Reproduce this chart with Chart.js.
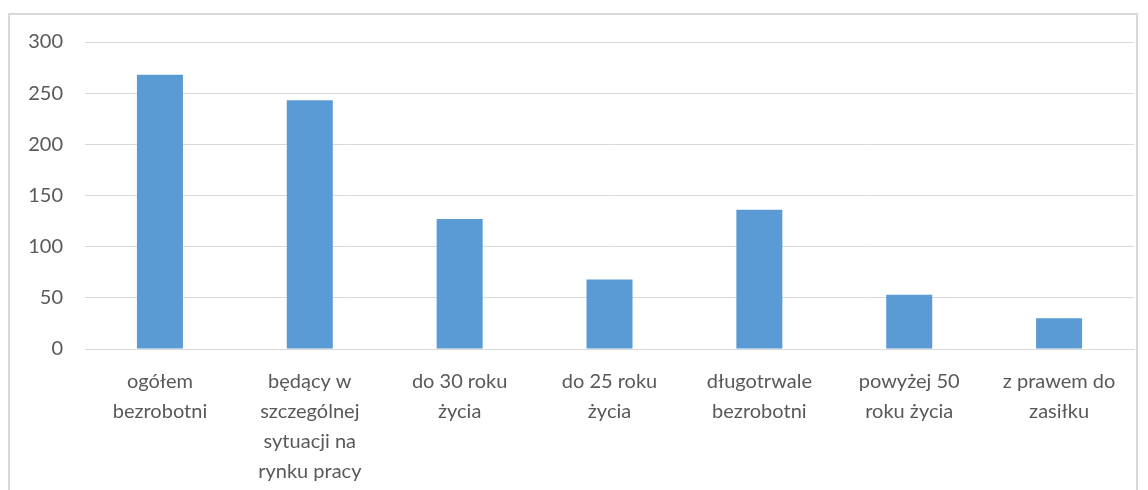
<!DOCTYPE html>
<html>
<head>
<meta charset="utf-8">
<script src="https://cdn.jsdelivr.net/npm/chart.js@4"></script>
<style>
  html, body { margin: 0; padding: 0; background: #fff; }
  #frame {
    position: absolute; left: 8px; top: 13px; width: 1130px; height: 500px;
    border: 2px solid #d9d9d9; box-sizing: border-box;
  }
  #wrap { position: absolute; left: 0; top: 0; width: 1148px; height: 490px; }
</style>
</head>
<body>
<div id="frame"></div>
<div id="wrap"><canvas id="chart"></canvas></div>
<script>
const categories = [
  ["ogółem", "bezrobotni"],
  ["będący w", "szczególnej", "sytuacji na", "rynku pracy"],
  ["do 30 roku", "życia"],
  ["do 25 roku", "życia"],
  ["długotrwale", "bezrobotni"],
  ["powyżej 50", "roku życia"],
  ["z prawem do", "zasiłku"]
];
const values = [268, 243, 127, 68, 136, 53, 30];
const yTicks = [0, 50, 100, 150, 200, 250, 300];

const textColor = "#595959";
const gridColor = "#d9d9d9";
const font = { family: "Lato", size: 20 };

new Chart(document.getElementById("chart"), {
  type: "bar",
  data: {
    labels: categories,
    datasets: [
      {
        data: values,
        backgroundColor: "#5b9bd5",
        borderWidth: 0,
        categoryPercentage: 1,
        barPercentage: 0.307
      }
    ]
  },
  options: {
    responsive: true,
    maintainAspectRatio: false,
    animation: false,
    layout: { padding: { top: 42, right: 14, left: 0, bottom: 0 } },
    plugins: {
      legend: { display: false },
      tooltip: { enabled: false }
    },
    scales: {
      x: {
        grid: { display: false },
        border: { display: true, color: gridColor, width: 1 },
        ticks: {
          color: textColor,
          font: { ...font, lineHeight: 1.5 },
          padding: 10,
          maxRotation: 0,
          autoSkip: false
        },
        afterFit: (scale) => { scale.height = 141; }
      },
      y: {
        min: 0,
        max: 300,
        afterBuildTicks: (scale) => {
          scale.ticks = yTicks.map((v) => ({ value: v }));
        },
        grid: { color: gridColor, lineWidth: 1, drawTicks: false },
        border: { display: false },
        ticks: { color: textColor, font, padding: 22 },
        afterFit: (scale) => { scale.width = 85; }
      }
    }
  }
});
</script>
</body>
</html>
